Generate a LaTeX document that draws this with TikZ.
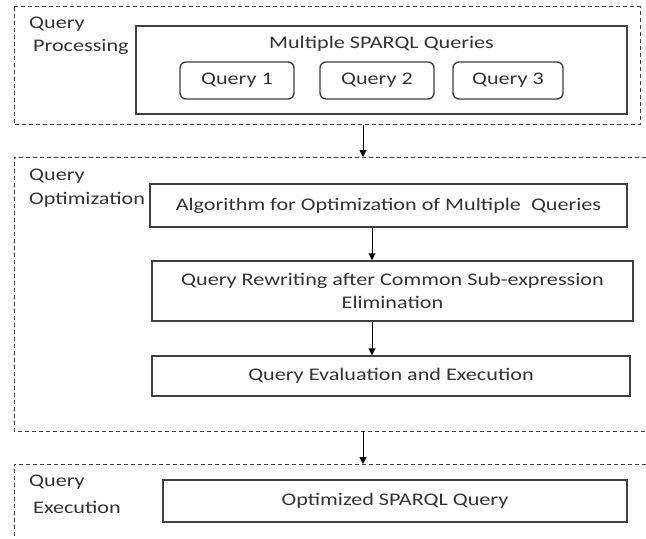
\documentclass[tikz,border=0pt]{standalone}
\usepackage{fontspec}
\setmainfont{Carlito}[FakeStretch=1.25]
\usetikzlibrary{arrows.meta}
\definecolor{ln}{HTML}{404040}
\definecolor{tx}{HTML}{333333}
\tikzset{
  dbox/.style={draw=ln, line width=1pt, dash pattern=on 4bp off 3bp},
  sbox/.style={draw=ln, line width=1.4pt, inner sep=0pt, text=tx, align=center},
  qbox/.style={draw=ln, line width=1.4pt, rounded corners=6bp, inner sep=0pt, text=tx},
  lbl/.style={anchor=west, inner sep=0pt, text=tx},
  arr/.style={draw=black, line width=0.9pt, -{Triangle[length=7bp,width=7bp]}},
  every node/.style={font=\fontsize{17.8}{24}\selectfont}
}
\begin{document}
\begin{tikzpicture}[x=1bp,y=-1bp]
\useasboundingbox (0,0) rectangle (646,539);
\fill[white] (0,0) rectangle (646,539);
% group 1
\draw[dbox] (14,7) rectangle (640,125);
\node[lbl] (l1a) at (29,24) {Query};
\node[lbl] (l1b) at (33,47) {Processing};
\node[sbox, minimum width=491bp, minimum height=88bp] (multi) at (381.5,70) {};
\node[text=tx, inner sep=0pt] (multit) at (381.5,44) {Multiple SPARQL Queries};
\node[qbox, minimum width=114bp, minimum height=37bp] (q1) at (237,80.5) {Query 1};
\node[qbox, minimum width=114bp, minimum height=37bp] (q2) at (377,80.5) {Query 2};
\node[qbox, minimum width=110bp, minimum height=37bp] (q3) at (508,80.5) {Query 3};
% group 2
\draw[dbox] (646,157) -- (14,157) -- (14,431) -- (646,431);
\node[lbl] (l2a) at (29,176) {Query};
\node[lbl] (l2b) at (29,200) {Optimization};
\node[sbox, minimum width=477bp, minimum height=43bp] (alg) at (388.5,205.5) {Algorithm for Optimization of Multiple~ Queries};
\node[sbox, minimum width=481bp, minimum height=60bp] (rew) at (392.5,291) {Query Rewriting after Common Sub-expression\\[-1bp]Elimination};
\node[sbox, minimum width=478bp, minimum height=40bp] (eval) at (391,376) {Query Evaluation and Execution};
% group 3
\draw[dbox] (646,464) -- (14,464) -- (14,539);
\node[lbl] (l3a) at (29,482) {Query};
\node[lbl] (l3b) at (33,507) {Execution};
\node[sbox, minimum width=464bp, minimum height=42bp] (opt) at (395,501) {Optimized SPARQL Query};
% connectors
\coordinate (g1b) at (363,125);
\coordinate (g2t) at (363,157);
\coordinate (g2b) at (363,431);
\coordinate (g3t) at (363,464);
\draw[arr] (g1b) -- (g2t);
\draw[arr] (alg.south -| 372,0) -- (rew.north -| 372,0);
\draw[arr] (rew.south -| 372,0) -- (eval.north -| 372,0);
\draw[arr] (g2b) -- (g3t);
\end{tikzpicture}
\end{document}
